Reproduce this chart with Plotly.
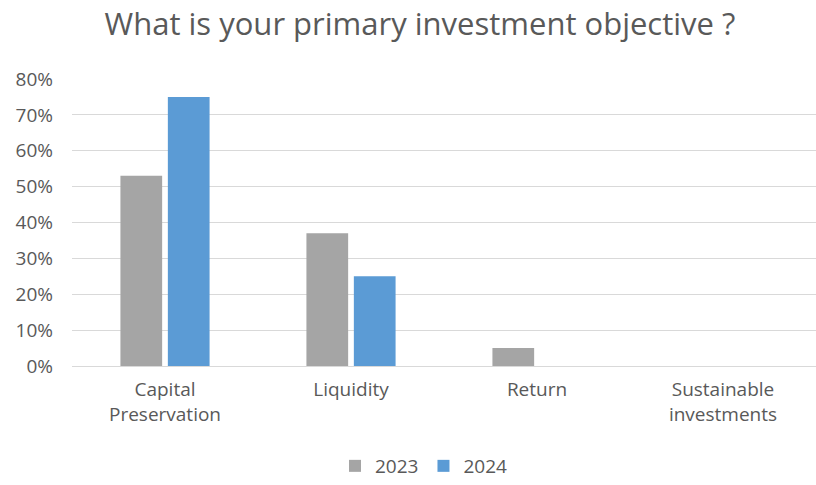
import plotly.graph_objects as go

# Survey answers, share of respondents per objective
categories = ["Capital<br>Preservation", "Liquidity", "Return", "Sustainable<br>investments"]
share_2023 = [0.53, 0.37, 0.05, 0.0]
share_2024 = [0.75, 0.25, 0.0, 0.0]
y_ticks = [0.0, 0.1, 0.2, 0.3, 0.4, 0.5, 0.6, 0.7, 0.8]

TEXT = "#595959"
GRID = "#D9D9D9"
FONT = "Open Sans"

fig = go.Figure()
fig.add_trace(go.Bar(name="2023", x=categories, y=share_2023,
                     marker=dict(color="#A5A5A5", line=dict(width=0))))
fig.add_trace(go.Bar(name="2024", x=categories, y=share_2024,
                     marker=dict(color="#5B9BD5", line=dict(width=0))))

fig.update_layout(
    width=816, height=485,
    margin=dict(l=72, r=0, t=79, b=119),
    paper_bgcolor="white", plot_bgcolor="white",
    barmode="group", bargap=0.49, bargroupgap=0.12,
    font=dict(family=FONT, color=TEXT, size=19),
    title=dict(text="What is your primary investment objective ?",
               x=420 / 816, xref="container", xanchor="center",
               y=1 - 24 / 485, yref="container", yanchor="middle",
               font=dict(family=FONT, size=31, color=TEXT)),
    legend=dict(orientation="h", xref="container", x=424 / 816, xanchor="center",
                yref="container", y=0.0, yanchor="bottom",
                font=dict(family=FONT, size=19, color=TEXT),
                itemwidth=30, traceorder="normal"),
    showlegend=True,
)
fig.update_xaxes(range=[-0.5, 3.5], showgrid=False, showline=False, zeroline=False,
                 ticks="", tickfont=dict(family=FONT, size=19, color=TEXT),
                 ticklabelstandoff=10)
fig.update_yaxes(range=[0, 0.8], tickvals=y_ticks, tickformat=".0%",
                 showgrid=True, gridcolor=GRID, gridwidth=1,
                 zeroline=True, zerolinecolor=GRID, zerolinewidth=1,
                 showline=False, ticks="",
                 tickfont=dict(family=FONT, size=19, color=TEXT),
                 ticklabelstandoff=18)

fig.write_html("out.html")
